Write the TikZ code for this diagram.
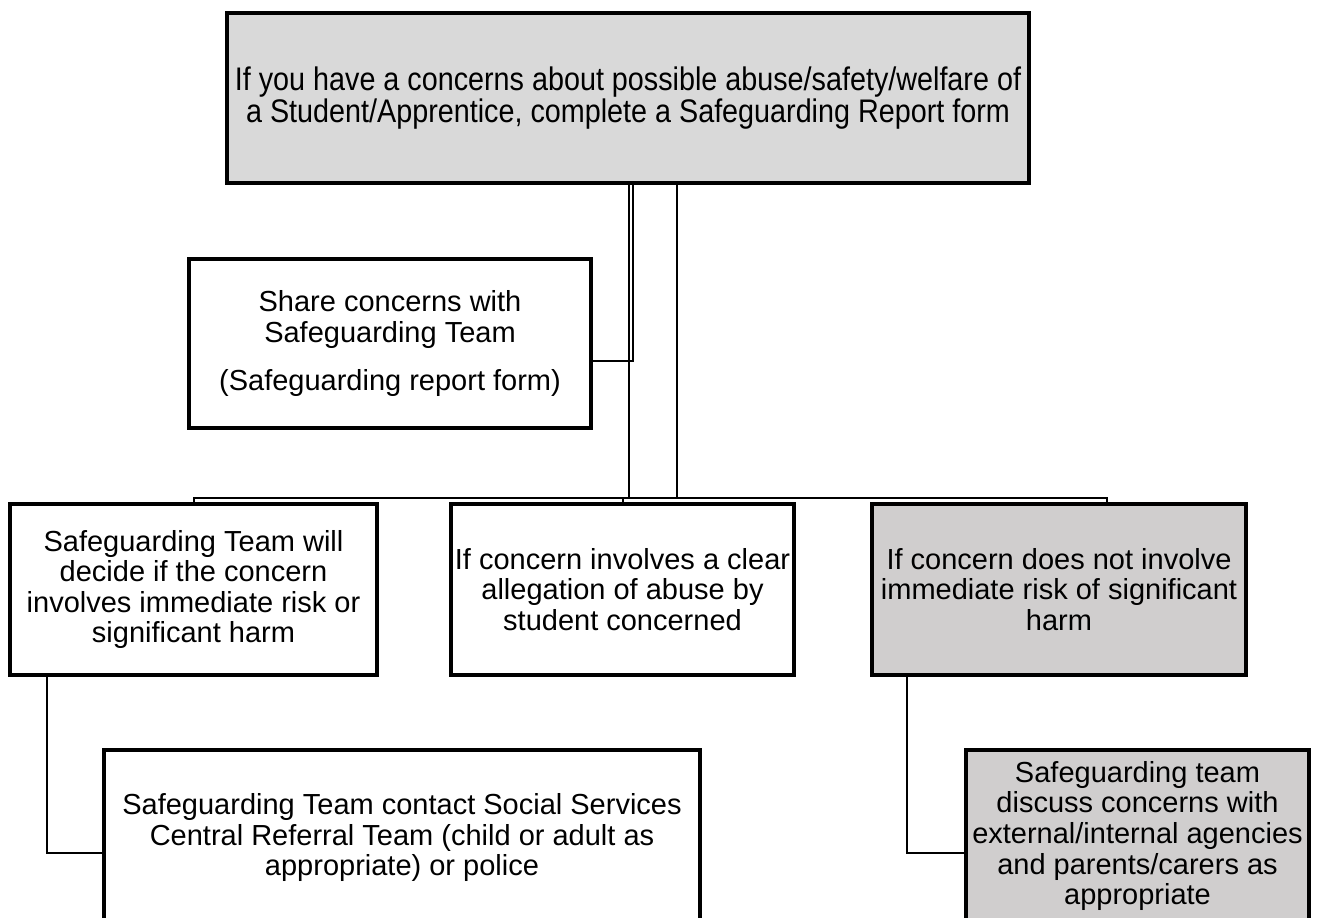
\documentclass[tikz,border=0pt]{standalone}
\usepackage{fontspec}
\setmainfont{Liberation Sans}
\newfontfamily\narrowfont[FakeStretch=0.88]{Liberation Sans}
\definecolor{topgray}{HTML}{D9D9D9}
\definecolor{boxgray}{HTML}{D0CECE}
\begin{document}
\begin{tikzpicture}[x=0.75pt,y=-0.75pt,
  box/.style={draw=black,line width=3pt,fill=white,inner sep=0pt,align=center,
    font=\fontsize{21.75pt}{22.9pt}\selectfont},
  conn/.style={draw=black,line width=1.5pt}]
\useasboundingbox (0,0) rectangle (1319,917);
\clip (0,0) rectangle (1319,917);
% boxes
\node[box,fill=topgray,minimum width=601.5pt,minimum height=127.5pt,
  font=\narrowfont\fontsize{24.5pt}{23.5pt}\selectfont] (top) at (628,98)
  {If you have a concerns about possible abuse/safety/welfare of\\a Student/Apprentice, complete a Safeguarding Report form};
\node[box,minimum width=301.5pt,minimum height=126.75pt] (share) at (390,343.5)
  {Share concerns with\\Safeguarding Team\\[12.75pt](Safeguarding report form)};
\node[box,minimum width=275.25pt,minimum height=128.25pt] (left) at (193.5,589.5)
  {Safeguarding Team will\\decide if the concern\\involves immediate risk or\\significant harm};
\node[box,minimum width=257.25pt,minimum height=128.25pt] (mid) at (622.5,589.5)
  {If concern involves a clear\\allegation of abuse by\\student concerned};
\node[box,fill=boxgray,minimum width=280.5pt,minimum height=128.25pt] (right) at (1059,589.5)
  {If concern does not involve\\immediate risk of significant\\harm};
\node[box,minimum width=447pt,minimum height=131.25pt] (lbot) at (402,837.5)
  {Safeguarding Team contact Social Services\\Central Referral Team (child or adult as\\appropriate) or police};
\node[box,fill=boxgray,minimum width=257.25pt,minimum height=129pt] (rbot) at (1137.5,836)
  {Safeguarding team\\discuss concerns with\\external/internal agencies\\and parents/carers as\\appropriate};
% helper coordinates
\coordinate (ca) at (629,498);
\coordinate (cb) at (632.5,361);
\coordinate (cc) at (677,498);
\coordinate (bl) at (194,498);
\coordinate (br) at (1107,498);
\coordinate (lx) at (47,853);
\coordinate (rx) at (907,853);
% connectors
\draw[conn] (top.south -| ca) -- (ca);
\draw[conn] (top.south -| cb) -- (cb) -- (share.east |- cb);
\draw[conn] (top.south -| cc) -- (cc);
\draw[conn] (left.north -| bl) -- (bl) -- (br) -- (right.north -| br);
\draw[conn] (mid.north) -- (mid.north |- bl);
\draw[conn] (left.south -| lx) -- (lx) -- (lbot.west |- lx);
\draw[conn] (right.south -| rx) -- (rx) -- (rbot.west |- rx);
\end{tikzpicture}
\end{document}
